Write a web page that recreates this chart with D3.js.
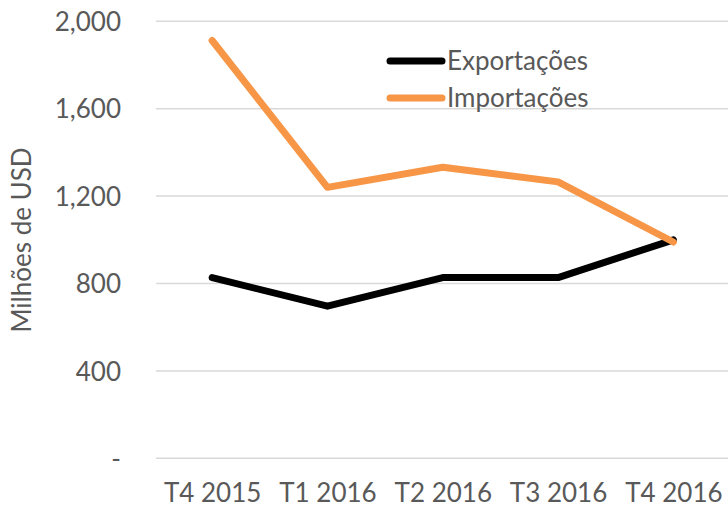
<!DOCTYPE html>
<html><head><meta charset="utf-8">
<script src="https://cdn.jsdelivr.net/npm/d3@7"></script>
<style>body{margin:0;background:#fff}svg{display:block}text{font-family:Lato,"Open Sans",sans-serif;fill:#595959}</style>
</head><body><svg id="c" width="728" height="508"></svg>
<script>
const categories = ["T4 2015","T1 2016","T2 2016","T3 2016","T4 2016"];
const exportacoes = [827, 696, 827, 827, 1000];
const importacoes = [1912, 1240, 1332, 1265, 990];
const yTicks = [0, 400, 800, 1200, 1600, 2000];
const seriesNames = ["Exportações","Importações"];
const seriesColors = ["#000000","#F79646"];
const FS = "26px";

const svg = d3.select("#c");
const x = d3.scalePoint().domain(categories).range([154.5, 731]).padding(0.5);
const y = d3.scaleLinear().domain([0, 2000]).range([458.3, 21.3]);

// gridlines
svg.append("g").selectAll("line").data(yTicks).join("line")
  .attr("x1", 156).attr("x2", 728)
  .attr("y1", d => y(d)).attr("y2", d => y(d))
  .attr("stroke", "#d9d9d9").attr("stroke-width", 1.5);

// y axis labels
const yAxis = d3.axisLeft(y).tickValues(yTicks).tickSize(0).tickPadding(0)
  .tickFormat(d => d === 0 ? "-" : d3.format(",")(d));
const gy = svg.append("g").attr("transform", "translate(121,0)").call(yAxis);
gy.select(".domain").remove();
gy.selectAll("text").style("font-size", FS).attr("fill", "#595959")
  .style("font-family", "Lato, 'Open Sans', sans-serif").attr("dy", "0.35em");

// x axis labels
const xAxis = d3.axisBottom(x).tickSize(0).tickPadding(0);
const gx = svg.append("g").attr("transform", "translate(0,493)").call(xAxis);
gx.select(".domain").remove();
gx.selectAll("text").style("font-size", FS).attr("fill", "#595959")
  .style("font-family", "Lato, 'Open Sans', sans-serif").attr("dy", "0.35em");

// axis title
svg.append("text").attr("transform", "translate(22,240) rotate(-90)")
  .attr("text-anchor", "middle").attr("dy", "0.35em").style("font-size", FS).text("Milhões de USD");

// lines
const line = d3.line().x((d, i) => x(categories[i])).y(d => y(d));
[exportacoes, importacoes].forEach((s, k) => {
  svg.append("path").datum(s).attr("d", line)
    .attr("fill", "none").attr("stroke", seriesColors[k]).attr("stroke-width", 7)
    .attr("stroke-linecap", "round").attr("stroke-linejoin", "round");
});

// legend
seriesNames.forEach((n, k) => {
  const ly = 61 + k * 37;
  svg.append("line").attr("x1", 390).attr("x2", 442).attr("y1", ly).attr("y2", ly)
    .attr("stroke", seriesColors[k]).attr("stroke-width", 7).attr("stroke-linecap", "round");
  svg.append("text").attr("x", 447).attr("y", ly).attr("dy", "0.35em")
    .style("font-size", FS).text(n);
});
</script></body></html>
